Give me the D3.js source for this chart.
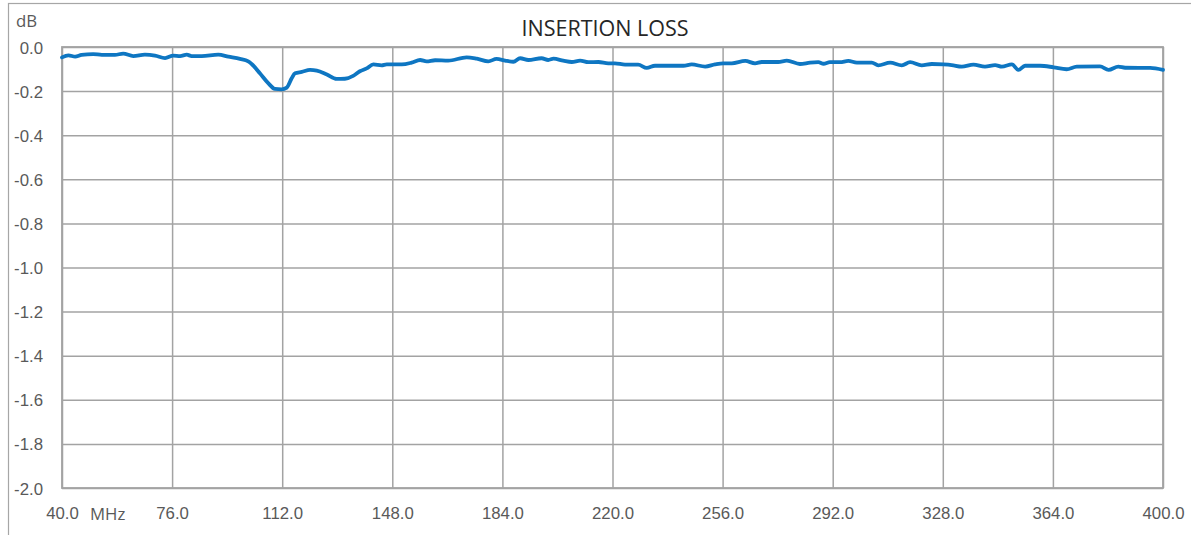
<!DOCTYPE html>
<html>
<head>
<meta charset="utf-8">
<script src="https://cdn.jsdelivr.net/npm/d3@7"></script>
<style>
  body { margin: 0; background: #fff; }
  svg { display: block; font-family: "Open Sans", sans-serif; }
  .tick text { fill: #595959; font-size: 16.8px; }
</style>
</head>
<body>
<svg width="1191" height="535"></svg>
<script>
// frequency (MHz) and insertion loss (dB)
const freq = [40, 42.1, 44.3, 46.4, 50.2, 53, 57.3, 60, 63.3, 67.1, 70.4, 73.7, 76.4, 78.6, 80.8, 82.4,
  85.7, 91.1, 94.4, 98.2, 100.9, 102, 104.7, 107.5, 109.6, 111.8, 113.5, 115.1, 116.2, 118.4, 121.1,
  123.3, 126.6, 129.8, 132.5, 135.2, 137.4, 139.6, 141.8, 144.5, 146.2, 151.1, 154.3, 157.1, 159.2,
  162, 166.3, 172.3, 175.6, 179.4, 182.1, 184.9, 187.6, 189.8, 192.5, 196.8, 199, 200.7, 203.9,
  206.7, 209.4, 212.1, 215.4, 218.6, 220.8, 224.1, 228.4, 231.2, 233.9, 243.2, 245.9, 250.3, 253.5,
  256.2, 259, 263.4, 266.6, 268.8, 274.2, 277, 281.3, 284.6, 287.3, 289, 291.1, 294.4, 297.1, 299.9,
  304.8, 306.9, 310.8, 314.6, 317.3, 321.1, 324.4, 328.2, 330.9, 334.2, 338, 341.8, 345.1, 347.3,
  350.6, 352.7, 354.9, 359.8, 364.2, 368.5, 371.8, 379.4, 382.2, 385.4, 387.6, 395.8, 400];
const loss = [-0.047, -0.038, -0.044, -0.036, -0.032, -0.036, -0.036, -0.030, -0.041, -0.035, -0.039,
  -0.050, -0.039, -0.041, -0.035, -0.041, -0.041, -0.035, -0.044, -0.054, -0.065, -0.077, -0.119,
  -0.165, -0.190, -0.192, -0.184, -0.142, -0.119, -0.113, -0.104, -0.107, -0.125, -0.145, -0.144,
  -0.131, -0.110, -0.097, -0.079, -0.083, -0.079, -0.079, -0.071, -0.059, -0.065, -0.060, -0.062,
  -0.047, -0.053, -0.065, -0.054, -0.062, -0.067, -0.051, -0.059, -0.051, -0.059, -0.053, -0.062,
  -0.068, -0.062, -0.069, -0.068, -0.074, -0.074, -0.080, -0.080, -0.095, -0.085, -0.085, -0.079,
  -0.089, -0.079, -0.074, -0.074, -0.063, -0.074, -0.068, -0.068, -0.062, -0.077, -0.071, -0.069,
  -0.076, -0.069, -0.069, -0.063, -0.071, -0.071, -0.083, -0.071, -0.083, -0.069, -0.083, -0.077,
  -0.079, -0.082, -0.089, -0.080, -0.089, -0.082, -0.089, -0.079, -0.104, -0.085, -0.085, -0.092,
  -0.101, -0.089, -0.088, -0.104, -0.089, -0.094, -0.095, -0.104];
const xTicks = d3.range(40, 400.1, 36);
const yTicks = d3.range(0, -2.01, -0.2);

const svg = d3.select("svg");
const margin = {left: 62, top: 47, right: 1163, bottom: 488};

// outer chart frame (runs off the bottom/right of the picture)
svg.append("rect")
  .attr("x", 8.5).attr("y", 3.5)
  .attr("width", 1200).attr("height", 600)
  .attr("fill", "none").attr("stroke", "#a6a6a6").attr("stroke-width", 1.2);

const x = d3.scaleLinear().domain([40, 400]).range([margin.left, margin.right]);
const y = d3.scaleLinear().domain([-2, 0]).range([margin.bottom, margin.top]);

// grid + y labels
const gy = svg.append("g")
  .attr("transform", `translate(${margin.left},0)`)
  .call(d3.axisLeft(y).tickValues(yTicks)
    .tickSize(-(margin.right - margin.left))
    .tickPadding(19)
    .tickFormat(d => (Math.abs(d) < 1e-9 ? 0 : d).toFixed(1)));
gy.select(".domain").remove();
gy.selectAll(".tick line").attr("stroke", "#a3a3a3").attr("stroke-width", 1.5);
gy.selectAll(".tick text").attr("dy", "0.36em");

const gx = svg.append("g")
  .attr("transform", `translate(0,${margin.bottom})`)
  .call(d3.axisBottom(x).tickValues(xTicks)
    .tickSize(-(margin.bottom - margin.top))
    .tickPadding(19)
    .tickFormat(d => d.toFixed(1)));
gx.select(".domain").remove();
gx.selectAll(".tick line").attr("stroke", "#a3a3a3").attr("stroke-width", 1.5);

// plot border
svg.append("rect")
  .attr("x", margin.left).attr("y", margin.top)
  .attr("width", margin.right - margin.left)
  .attr("height", margin.bottom - margin.top)
  .attr("fill", "none").attr("stroke", "#a3a3a3").attr("stroke-width", 1.8);

// units
svg.append("text").attr("x", x(40) + 28).attr("y", margin.bottom + 32)
  .attr("fill", "#595959").attr("font-size", "16.8px").text("MHz");
svg.append("text").attr("x", 16).attr("y", 27)
  .attr("fill", "#595959").attr("font-size", "16.8px").text("dB");

svg.append("text")
  .attr("x", 605).attr("y", 36)
  .attr("text-anchor", "middle")
  .attr("fill", "#262626").attr("font-size", "21.5px")
  .text("INSERTION LOSS");

const rows = freq.map((f, i) => ({f: f, v: loss[i]}));
const line = d3.line()
  .x(d => x(d.f))
  .y(d => y(d.v))
  .curve(d3.curveMonotoneX);

svg.append("path")
  .datum(rows)
  .attr("d", line)
  .attr("fill", "none")
  .attr("stroke", "#0e76c2")
  .attr("stroke-width", 3.8)
  .attr("stroke-linejoin", "round")
  .attr("stroke-linecap", "round");
</script>
</body>
</html>
